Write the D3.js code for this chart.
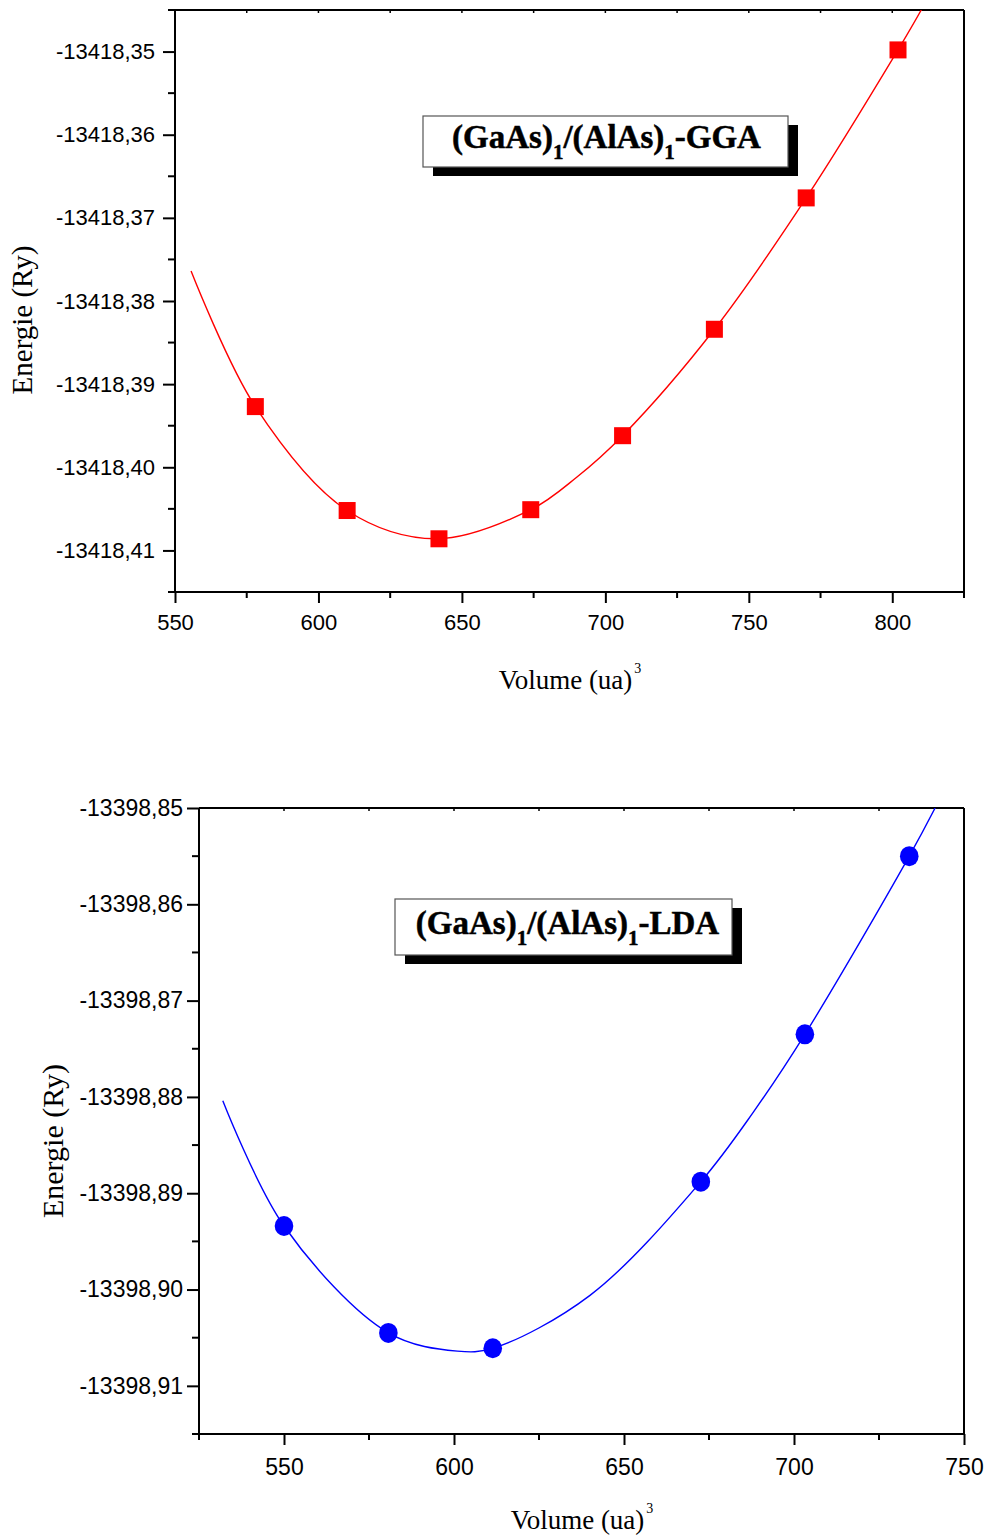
<!DOCTYPE html>
<html>
<head>
<meta charset="utf-8">
<script src="https://cdn.jsdelivr.net/npm/d3@7"></script>
<style>
  html, body { margin: 0; padding: 0; background: #fff; }
  svg { display: block; }
</style>
</head>
<body>
<svg id="chart" width="988" height="1537"></svg>
<script>
// GGA calculation: computed points and fitted E(V) curve
const ggaVolume = [578, 610, 642, 674, 706, 738, 770, 802];
const ggaEnergy = [-13418.3927, -13418.4052, -13418.4086, -13418.4051, -13418.3962, -13418.3834, -13418.3676, -13418.3498];
const ggaFitVolume = [555.6, 578, 610, 641, 674, 690, 706, 738, 770, 802, 810.1, 814];
const ggaFitEnergy = [-13418.3764, -13418.3927, -13418.4052, -13418.4086, -13418.4051, -13418.4012, -13418.3962, -13418.3834, -13418.3676, -13418.3498, -13418.3450, -13418.3425];

// LDA calculation: computed points and fitted E(V) curve
const ldaVolume = [550, 580.7, 611.4, 672.6, 703.2, 733.9];
const ldaEnergy = [-13398.8934, -13398.9045, -13398.9061, -13398.8888, -13398.8735, -13398.8550];
const ldaFitVolume = [532.0, 550, 580.7, 601, 611.4, 640, 672.6, 688, 703.2, 733.9, 741.5, 745];
const ldaFitEnergy = [-13398.8804, -13398.8934, -13398.9045, -13398.9064, -13398.9061, -13398.9006, -13398.8888, -13398.8816, -13398.8735, -13398.8550, -13398.8500, -13398.8475];

// Axis ranges and tick values
const ggaXDomain = [550, 825];
const ggaYDomain = [-13418.415, -13418.345];
const ggaXTicks = [550, 600, 650, 700, 750, 800];
const ggaYTicks = [-13418.35, -13418.36, -13418.37, -13418.38, -13418.39, -13418.40, -13418.41];

const ldaXDomain = [525, 750];
const ldaYDomain = [-13398.915, -13398.85];
const ldaXTicks = [550, 600, 650, 700, 750];
const ldaYTicks = [-13398.85, -13398.86, -13398.87, -13398.88, -13398.89, -13398.90, -13398.91];

const xTitle = "Volume (ua)";
const yTitle = "Energie (Ry)";

const svg = d3.select("#chart");
// decimal comma and a plain hyphen for the sign
const fmtY = d => d3.format(".2f")(d).replace("\u2212", "-").replace(".", ",");

function range(a, b, step) {
  const out = [];
  const n = Math.round((b - a) / step);
  for (let i = 0; i <= n; i++) out.push(+(a + i * step).toFixed(6));
  return out;
}

function panel(cfg) {
  const { id, box, xDomain, yDomain, xTicks, yTicks, xMinorStep, yMinorStep,
          vol, en, fitV, fitE, color, marker, fontSize, label, legendBox,
          yTitlePos, xTitlePos } = cfg;
  const g = svg.append("g");
  const x = d3.scaleLinear().domain(xDomain).range([box.left, box.right]);
  const y = d3.scaleLinear().domain(yDomain).range([box.bottom, box.top]);

  // clip for fitted curve
  svg.append("defs").append("clipPath").attr("id", "clip-" + id)
    .append("rect")
    .attr("x", box.left).attr("y", box.top)
    .attr("width", box.right - box.left).attr("height", box.bottom - box.top);

  // frame (top and right)
  g.append("line").attr("x1", box.left).attr("x2", box.right).attr("y1", box.top).attr("y2", box.top)
    .attr("stroke", "#000").attr("stroke-width", 2);
  g.append("line").attr("x1", box.right).attr("x2", box.right).attr("y1", box.top).attr("y2", box.bottom)
    .attr("stroke", "#000").attr("stroke-width", 2);

  // small inward ticks on top edge
  const topTicks = range(xDomain[0], xDomain[1], xMinorStep);
  g.selectAll(null).data(topTicks).join("line")
    .attr("x1", d => x(d)).attr("x2", d => x(d))
    .attr("y1", box.top).attr("y2", box.top + 3)
    .attr("stroke", "#000").attr("stroke-width", 1.5);

  // bottom axis
  const xMinor = range(xDomain[0], xDomain[1], xMinorStep).filter(v => !xTicks.some(t => Math.abs(t - v) < 1e-6));
  const xAxis = d3.axisBottom(x).tickValues(xTicks).tickSize(11).tickPadding(cfg.xPad).tickFormat(d3.format("d"));
  const gx = g.append("g").attr("transform", `translate(0,${box.bottom})`).call(xAxis);
  gx.selectAll(null).data(xMinor).join("line")
    .attr("x1", d => x(d)).attr("x2", d => x(d)).attr("y1", 0).attr("y2", 6)
    .attr("stroke", "#000").attr("stroke-width", 2);

  // left axis
  const yMinor = range(yDomain[0], yDomain[1], yMinorStep).filter(v => !yTicks.some(t => Math.abs(t - v) < 1e-6));
  const yAxis = d3.axisLeft(y).tickValues(yTicks).tickSize(12).tickPadding(cfg.yPad).tickFormat(fmtY);
  const gy = g.append("g").attr("transform", `translate(${box.left},0)`).call(yAxis);
  gy.selectAll(null).data(yMinor).join("line")
    .attr("x1", 0).attr("x2", -7).attr("y1", d => y(d)).attr("y2", d => y(d))
    .attr("stroke", "#000").attr("stroke-width", 2);

  [gx, gy].forEach(a => {
    a.select(".domain").attr("stroke", "#000").attr("stroke-width", 2)
      .attr("d", a === gx ? `M${box.left},0H${box.right}` : `M0,${box.bottom}V${box.top}`);
    a.selectAll(".tick line").attr("stroke", "#000").attr("stroke-width", 2);
    a.selectAll(".tick text")
      .attr("font-family", "'Liberation Sans', Arial, sans-serif")
      .attr("font-size", fontSize).attr("fill", "#000");
  });

  // fitted curve
  const line = d3.line()
    .x((d, i) => x(fitV[i])).y((d, i) => y(fitE[i]))
    .curve(d3.curveCatmullRom.alpha(0.5));
  g.append("path").datum(fitV)
    .attr("d", line)
    .attr("fill", "none").attr("stroke", color).attr("stroke-width", 1.4)
    .attr("clip-path", `url(#clip-${id})`);

  // computed points
  const pts = vol.map((v, i) => ({ v, e: en[i] }));
  if (marker === "square") {
    const s = 17;
    g.selectAll(null).data(pts).join("rect")
      .attr("x", d => x(d.v) - s / 2).attr("y", d => y(d.e) - s / 2)
      .attr("width", s).attr("height", s).attr("fill", color);
  } else {
    g.selectAll(null).data(pts).join("ellipse")
      .attr("cx", d => x(d.v)).attr("cy", d => y(d.e))
      .attr("rx", 9.3).attr("ry", 10).attr("fill", color);
  }

  // legend box with drop shadow
  const lb = legendBox;
  g.append("rect").attr("x", lb.x + 10).attr("y", lb.y + 9).attr("width", lb.w).attr("height", lb.h).attr("fill", "#000");
  g.append("rect").attr("x", lb.x).attr("y", lb.y).attr("width", lb.w).attr("height", lb.h)
    .attr("fill", "#fff").attr("stroke", "#555").attr("stroke-width", 1.2);
  const t = g.append("text")
    .attr("x", lb.x + lb.w / 2 + lb.dx).attr("y", lb.y + lb.base)
    .attr("text-anchor", "middle")
    .attr("font-family", "'Liberation Serif', 'Times New Roman', serif")
    .attr("font-weight", "bold").attr("font-size", lb.fs).attr("fill", "#000")
    .attr("stroke", "#000").attr("stroke-width", 0.5);
  const subFs = Math.round(lb.fs * 0.65);
  t.append("tspan").text("(GaAs)");
  t.append("tspan").attr("font-size", subFs).attr("dy", 11).text("1");
  t.append("tspan").attr("dy", -11).text("/(AlAs)");
  t.append("tspan").attr("font-size", subFs).attr("dy", 11).text("1");
  t.append("tspan").attr("dy", -11).text(label);

  // axis titles
  g.append("text")
    .attr("transform", `translate(${yTitlePos.x},${yTitlePos.y}) rotate(-90)`)
    .attr("text-anchor", "middle")
    .attr("font-family", "'Liberation Serif', 'Times New Roman', serif")
    .attr("font-size", yTitlePos.fs).attr("fill", "#000")
    .text(yTitle);
  const xt = g.append("text")
    .attr("x", xTitlePos.x).attr("y", xTitlePos.y)
    .attr("text-anchor", "middle")
    .attr("font-family", "'Liberation Serif', 'Times New Roman', serif")
    .attr("font-size", xTitlePos.fs).attr("fill", "#000");
  xt.append("tspan").text(xTitle);
  xt.append("tspan").attr("font-size", 14).attr("dy", -16).attr("dx", 2).text("3");
}

panel({
  id: "gga",
  box: { left: 175, right: 964, top: 10, bottom: 592 },
  xDomain: ggaXDomain, yDomain: ggaYDomain, xTicks: ggaXTicks, yTicks: ggaYTicks,
  xMinorStep: 25, yMinorStep: 0.005,
  vol: ggaVolume, en: ggaEnergy, fitV: ggaFitVolume, fitE: ggaFitEnergy,
  color: "#ff0000", marker: "square", fontSize: 22, yPad: 8, xPad: 11,
  label: "-GGA",
  legendBox: { x: 423, y: 116, w: 365, h: 51, base: 32, fs: 33, dx: 1 },
  yTitlePos: { x: 32, y: 320, fs: 29 },
  xTitlePos: { x: 570, y: 689, fs: 27 }
});

panel({
  id: "lda",
  box: { left: 199, right: 964, top: 808, bottom: 1434 },
  xDomain: ldaXDomain, yDomain: ldaYDomain, xTicks: ldaXTicks, yTicks: ldaYTicks,
  xMinorStep: 25, yMinorStep: 0.005,
  vol: ldaVolume, en: ldaEnergy, fitV: ldaFitVolume, fitE: ldaFitEnergy,
  color: "#0000ff", marker: "circle", fontSize: 23, yPad: 4, xPad: 14,
  label: "-LDA",
  legendBox: { x: 395, y: 899, w: 337, h: 56, base: 35, fs: 33, dx: 4 },
  yTitlePos: { x: 63, y: 1141, fs: 30 },
  xTitlePos: { x: 582, y: 1529, fs: 27 }
});
</script>
</body>
</html>
